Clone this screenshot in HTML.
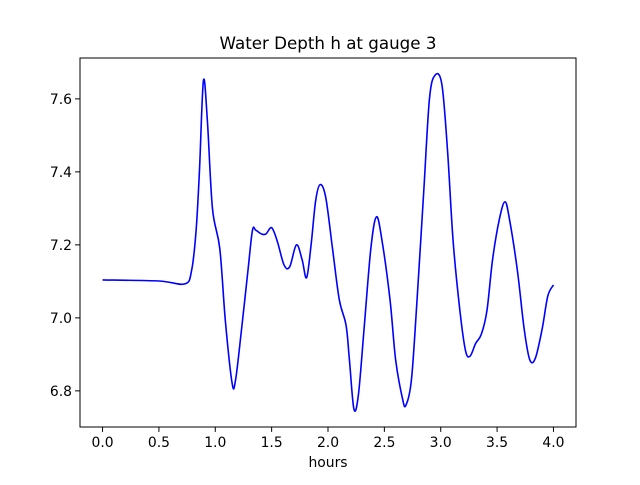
<!DOCTYPE html>
<html><head><meta charset="utf-8"><style>
body{margin:0;background:#fff}
svg text{font-family:"DejaVu Sans","Liberation Sans",sans-serif;fill:#000}
</style></head><body>
<svg id="chart" width="640" height="480" xmlns="http://www.w3.org/2000/svg">
<rect width="640" height="480" fill="#fff"/>
<text x="328" y="49" font-size="16.7" text-anchor="middle">Water Depth h at gauge 3</text>
<g id="plot"></g>
<text x="328" y="467" font-size="13.9" text-anchor="middle">hours</text>
</svg>
<script>
const times=[0,0.5,0.73,0.79,0.83,0.86,0.895,0.93,0.975,1.04,1.09,1.15,1.18,1.23,1.29,1.33,1.36,1.41,1.45,1.5,1.55,1.61,1.66,1.72,1.77,1.81,1.85,1.89,1.93,1.98,2.04,2.10,2.16,2.19,2.23,2.27,2.32,2.38,2.43,2.48,2.55,2.60,2.66,2.69,2.74,2.79,2.85,2.90,2.95,3.01,3.06,3.11,3.17,3.22,3.26,3.31,3.36,3.41,3.46,3.52,3.57,3.61,3.68,3.74,3.79,3.84,3.90,3.95,4.0];
const depths=[7.104,7.101,7.093,7.13,7.24,7.405,7.65,7.54,7.30,7.19,6.99,6.82,6.83,6.96,7.13,7.24,7.24,7.23,7.23,7.247,7.21,7.145,7.14,7.20,7.16,7.11,7.20,7.32,7.365,7.33,7.19,7.05,6.98,6.885,6.75,6.79,6.97,7.19,7.277,7.21,7.05,6.885,6.78,6.76,6.83,7.05,7.35,7.60,7.665,7.64,7.46,7.21,7.02,6.91,6.895,6.93,6.955,7.02,7.16,7.27,7.318,7.27,7.13,6.97,6.885,6.89,6.97,7.06,7.09];
const xTicks=[0.0,0.5,1.0,1.5,2.0,2.5,3.0,3.5,4.0];
const yTicks=[6.8,7.0,7.2,7.4,7.6];
const L=80,R=576,T=58,B=427,x0=-0.2,x1=4.2,y0=6.701,y1=7.712;
const X=v=>L+(v-x0)/(x1-x0)*(R-L);
const Y=v=>B-(v-y0)/(y1-y0)*(B-T);
const NS="http://www.w3.org/2000/svg";
const g=document.getElementById('plot');
function mk(t,a){const e=document.createElementNS(NS,t);for(const k in a)e.setAttribute(k,a[k]);g.appendChild(e);return e;}
const pts=times.map((t,i)=>[X(t),Y(depths[i])]);
let d=`M${pts[0][0]},${pts[0][1]}`;
for(let i=0;i<pts.length-1;i++){
 const p0=pts[Math.max(0,i-1)],p1=pts[i],p2=pts[i+1],p3=pts[Math.min(pts.length-1,i+2)];
 const c1=[p1[0]+(p2[0]-p0[0])/6,p1[1]+(p2[1]-p0[1])/6];
 const c2=[p2[0]-(p3[0]-p1[0])/6,p2[1]-(p3[1]-p1[1])/6];
 d+=` C${c1[0]},${c1[1]} ${c2[0]},${c2[1]} ${p2[0]},${p2[1]}`;
}
const line=mk('path',{d:d,fill:'none',stroke:'#0000ff','stroke-width':1.6});


const frame=mk('rect',{x:L,y:T,width:R-L,height:B-T,fill:'none',stroke:'#000','stroke-width':1});


xTicks.forEach(v=>{
 const tk=mk('line',{x1:X(v),x2:X(v),y1:B,y2:B+4.9,stroke:'#000'});
 
 
 const tx=mk('text',{x:X(v),y:B+20,'font-size':13.9,'text-anchor':'middle'});
 tx.textContent=v.toFixed(1);
 
 
});
yTicks.forEach(v=>{
 const tk=mk('line',{x1:L-4.9,x2:L,y1:Y(v),y2:Y(v),stroke:'#000'});
 
 
 const tx=mk('text',{x:L-8,y:Y(v)+5,'font-size':13.9,'text-anchor':'end'});
 tx.textContent=v.toFixed(1);
 
 
});
</script>
</body></html>
